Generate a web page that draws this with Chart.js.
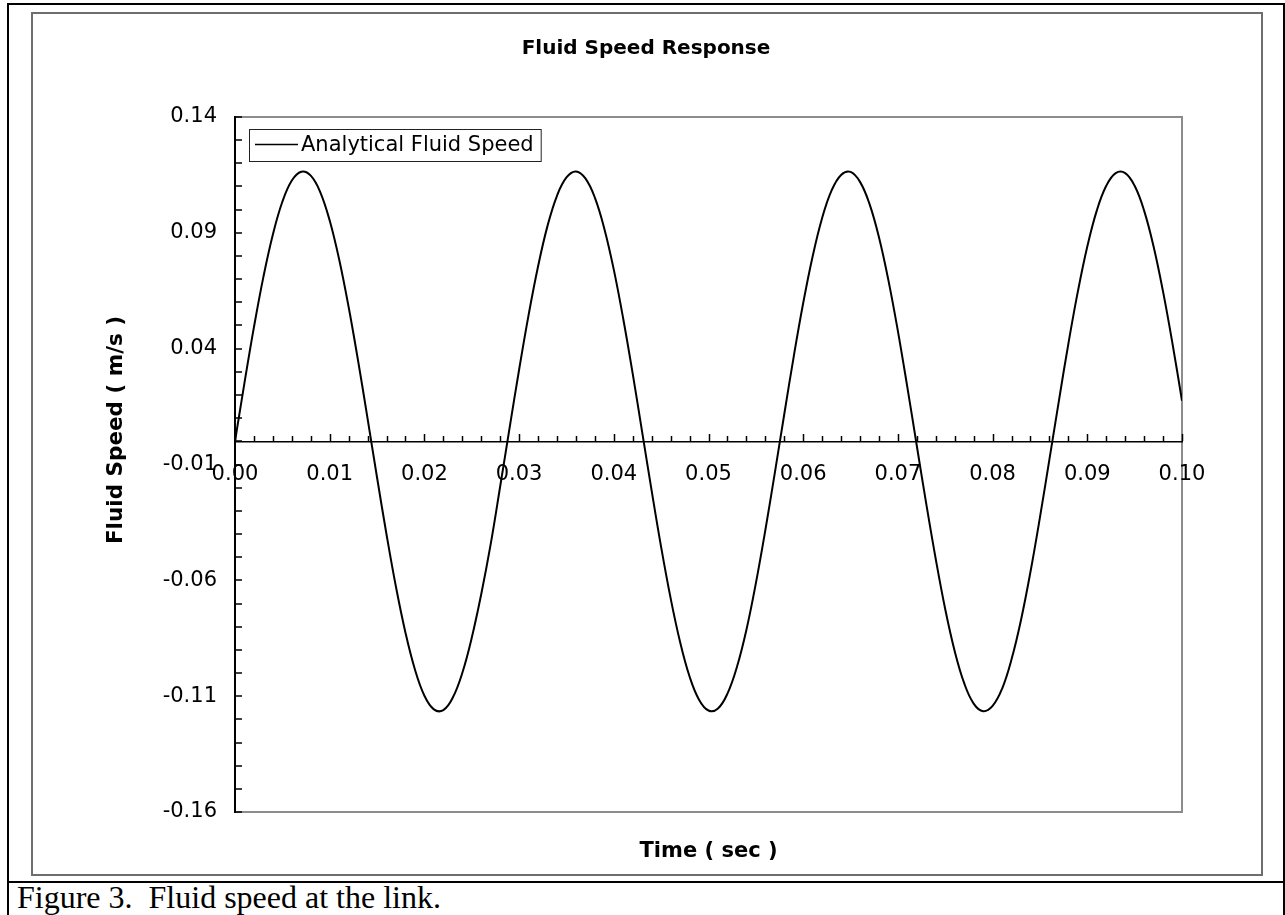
<!DOCTYPE html>
<html>
<head>
<meta charset="utf-8">
<title>Fluid Speed Response</title>
<script src="https://cdn.jsdelivr.net/npm/chart.js@4.4.1/dist/chart.umd.min.js"></script>
<style>
  html, body { margin: 0; padding: 0; background: #fff; }
  body { width: 1285px; height: 915px; position: relative; overflow: hidden; }
  .frame { position: absolute; left: 7px; top: 3px; width: 1274px; height: 940px; border: 2px solid #000; }
  .rule { position: absolute; left: 7px; top: 881px; width: 1278px; height: 2px; background: #000; }
  .chart-box { position: absolute; left: 31px; top: 12px; width: 1228px; height: 860px; border: 2px solid #6e6e6e; }
  .caption { position: absolute; left: 17px; top: 881px; font: 32px/32px "Liberation Serif", "Times New Roman", serif; white-space: pre; }
  canvas { position: absolute; left: 0; top: 0; }
</style>
</head>
<body>
<div class="frame"></div>
<div class="chart-box"></div>
<div class="rule"></div>
<div class="caption">Figure 3.  Fluid speed at the link.</div>
<canvas id="chart" width="1285" height="915"></canvas>

<script>
// time samples (sec)
const timeSec = [
  0.000, 0.001, 0.002, 0.003, 0.004, 0.005, 0.006, 0.007, 0.008, 0.009,
  0.010, 0.011, 0.012, 0.013, 0.014, 0.015, 0.016, 0.017, 0.018, 0.019,
  0.020, 0.021, 0.022, 0.023, 0.024, 0.025, 0.026, 0.027, 0.028, 0.029,
  0.030, 0.031, 0.032, 0.033, 0.034, 0.035, 0.036, 0.037, 0.038, 0.039,
  0.040, 0.041, 0.042, 0.043, 0.044, 0.045, 0.046, 0.047, 0.048, 0.049,
  0.050, 0.051, 0.052, 0.053, 0.054, 0.055, 0.056, 0.057, 0.058, 0.059,
  0.060, 0.061, 0.062, 0.063, 0.064, 0.065, 0.066, 0.067, 0.068, 0.069,
  0.070, 0.071, 0.072, 0.073, 0.074, 0.075, 0.076, 0.077, 0.078, 0.079,
  0.080, 0.081, 0.082, 0.083, 0.084, 0.085, 0.086, 0.087, 0.088, 0.089,
  0.090, 0.091, 0.092, 0.093, 0.094, 0.095, 0.096, 0.097, 0.098, 0.099,
  0.100
];

// analytical fluid speed (m/s)
const fluidSpeed = [
  0.0000, 0.0252, 0.0493, 0.0710, 0.0893, 0.1034, 0.1126, 0.1164, 0.1147, 0.1076,
  0.0953, 0.0785, 0.0580, 0.0347, 0.0098, -0.0156, -0.0402, -0.0629, -0.0826, -0.0985,
  -0.1098, -0.1157, -0.1160, -0.1106, -0.1000, -0.0848, -0.0660, -0.0444, -0.0195, 0.0059,
  0.0309, 0.0545, 0.0755, 0.0930, 0.1060, 0.1139, 0.1165, 0.1135, 0.1052, 0.0918,
  0.0741, 0.0528, 0.0291, 0.0039, -0.0214, -0.0457, -0.0677, -0.0866, -0.1015, -0.1115,
  -0.1162, -0.1153, -0.1089, -0.0974, -0.0814, -0.0613, -0.0384, -0.0137, 0.0117, 0.0366,
  0.0597, 0.0799, 0.0964, 0.1083, 0.1150, 0.1163, 0.1120, 0.1025, 0.0881, 0.0695,
  0.0476, 0.0233, -0.0020, -0.0271, -0.0509, -0.0725, -0.0906, -0.1044, -0.1132, -0.1165,
  -0.1142, -0.1068, -0.0941, -0.0771, -0.0563, -0.0328, -0.0078, 0.0175, 0.0421, 0.0646,
  0.0841, 0.0996, 0.1103, 0.1158, 0.1158, 0.1103, 0.0996, 0.0841, 0.0646, 0.0421,
  0.0175
];

const yTickLabels = ['0.14', '0.09', '0.04', '-0.01', '-0.06', '-0.11', '-0.16'];
const xTickLabels = ['0.00', '0.01', '0.02', '0.03', '0.04', '0.05', '0.06', '0.07', '0.08', '0.09', '0.10'];
const yAxisTitle = 'Fluid Speed ( m/s )';

const FONT = '"DejaVu Sans", Verdana, sans-serif';
Chart.defaults.font.family = FONT;
Chart.defaults.color = '#000';

function majorLabel(list, v) {
  const s = v.toFixed(2);
  return list.includes(s) && Math.abs(v - Number(s)) < 1e-6 ? s : '';
}

// grey frame round the plot area
const plotFrame = {
  id: 'plotFrame',
  beforeDraw(chart) {
    const { ctx, chartArea: ca } = chart;
    ctx.save();
    ctx.strokeStyle = '#8c8c8c';
    ctx.lineWidth = 2;
    ctx.strokeRect(ca.left, ca.top, ca.right - ca.left, ca.bottom - ca.top);
    ctx.restore();
  }
};

// inward tick marks on the y axis, upward ticks on the zero line
const axisTicks = {
  id: 'axisTicks',
  afterDatasetsDraw(chart) {
    const { ctx, chartArea: ca, scales: { x, y } } = chart;
    const y0 = Math.round(y.getPixelForValue(0));
    ctx.save();
    ctx.strokeStyle = '#000';
    ctx.lineWidth = 1.5;
    ctx.beginPath();
    y.ticks.forEach(t => {
      const py = Math.round(y.getPixelForValue(t.value));
      ctx.moveTo(ca.left, py);
      ctx.lineTo(ca.left + 7, py);
    });
    x.ticks.forEach(t => {
      const px = Math.round(x.getPixelForValue(t.value)) + 0.5;
      const len = t.label ? 7 : 5;
      ctx.moveTo(px, y0);
      ctx.lineTo(px, y0 - len);
    });
    ctx.stroke();
    ctx.restore();
  }
};

// rotated y axis title, sitting a little above the middle like the original
const yTitle = {
  id: 'yTitle',
  afterDraw(chart) {
    const { ctx } = chart;
    ctx.save();
    ctx.translate(116, 430);
    ctx.rotate(-Math.PI / 2);
    ctx.font = 'bold 21.5px ' + FONT;
    ctx.fillStyle = '#000';
    ctx.textAlign = 'center';
    ctx.textBaseline = 'middle';
    ctx.fillText(yAxisTitle, 0, 0);
    ctx.restore();
  }
};

// boxed legend in the top left corner of the plot
const legendBox = {
  id: 'legendBox',
  afterDraw(chart) {
    const { ctx, chartArea: ca } = chart;
    const label = chart.data.datasets[0].label;
    ctx.save();
    ctx.font = '21px ' + FONT;
    const tw = ctx.measureText(label).width;
    const x = ca.left + 14, y = ca.top + 12, h = 32, w = 52 + tw + 7;
    ctx.fillStyle = '#fff';
    ctx.fillRect(x, y, w, h);
    ctx.strokeStyle = '#222';
    ctx.lineWidth = 1;
    ctx.strokeRect(x + 0.5, y + 0.5, w, h);
    ctx.beginPath();
    ctx.moveTo(x + 6, y + 15.5);
    ctx.lineTo(x + 49, y + 15.5);
    ctx.lineWidth = 1.5;
    ctx.strokeStyle = '#000';
    ctx.stroke();
    ctx.fillStyle = '#000';
    ctx.textBaseline = 'middle';
    ctx.fillText(label, x + 52, y + 16.5);
    ctx.restore();
  }
};

new Chart(document.getElementById('chart'), {
  type: 'line',
  data: {
    datasets: [{
      label: 'Analytical Fluid Speed',
      data: timeSec.map((t, i) => ({ x: t, y: fluidSpeed[i] })),
      borderColor: '#000',
      borderWidth: 2,
      pointRadius: 0,
      tension: 0.4,
      fill: false
    }]
  },
  options: {
    responsive: false,
    animation: false,
    devicePixelRatio: 1,
    layout: { padding: { left: 110, right: 103, top: 0, bottom: 0 } },
    plugins: {
      legend: { display: false },
      tooltip: { enabled: false },
      title: {
        display: true,
        text: 'Fluid Speed Response',
        color: '#000',
        font: { size: 20, weight: 'bold' },
        padding: { top: 37, bottom: 56 }
      },
      subtitle: {
        display: true,
        position: 'bottom',
        fullSize: false,
        text: 'Time ( sec )',
        color: '#000',
        font: { size: 21, weight: 'bold' },
        padding: { top: 26.5, bottom: 51.3 }
      }
    },
    scales: {
      x: {
        type: 'linear',
        min: 0,
        max: 0.1,
        position: { y: 0 },
        grid: { display: false, drawTicks: false },
        border: { display: true, color: '#000', width: 1.5 },
        ticks: {
          stepSize: 0.002,
          autoSkip: false,
          maxRotation: 0,
          padding: 21,
          font: { size: 21 },
          color: '#000',
          callback: v => majorLabel(xTickLabels, v)
        }
      },
      y: {
        min: -0.16,
        max: 0.14,
        grid: { display: false, drawTicks: false },
        border: { display: true, color: '#000', width: 2 },
        ticks: {
          stepSize: 0.01,
          autoSkip: false,
          padding: 18,
          font: { size: 21 },
          color: '#000',
          callback: v => majorLabel(yTickLabels, v)
        },
        afterFit: scale => { scale.width = 125; }
      }
    }
  },
  plugins: [plotFrame, axisTicks, yTitle, legendBox]
});
</script>
</body>
</html>
